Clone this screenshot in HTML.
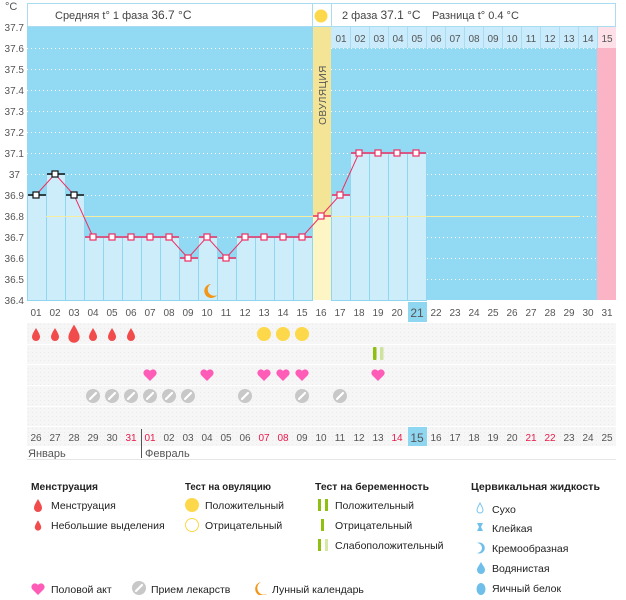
<!DOCTYPE html><html><head><meta charset="utf-8"><style>
body{margin:0;background:#fff;width:626px;height:595px;overflow:hidden;font-family:"Liberation Sans",sans-serif}
svg text{font-family:"Liberation Sans","DejaVu Sans",sans-serif}
</style></head><body>
<svg width="626" height="595" xmlns="http://www.w3.org/2000/svg">
<defs>
<pattern id="dots" width="4" height="4" patternUnits="userSpaceOnUse"><rect width="4" height="4" fill="#f6f6f6"/><rect width="1" height="1" fill="#ebebeb"/></pattern>
<g id="drop"><path d="M0,-6 C3,-1 4,1 4,3 A4,4 0 0 1 -4,3 C-4,1 -3,-1 0,-6Z" fill="#f24b4b"/></g>
<g id="heart"><path d="M0,6 L-6,0 A3.3,3.3 0 0 1 0,-4 A3.3,3.3 0 0 1 6,0Z" fill="#ff5cb8"/></g>
<g id="pill"><circle r="7" fill="#c8c8c8"/><line x1="-3" y1="3" x2="3" y2="-3" stroke="#fff" stroke-width="2.2" stroke-linecap="round"/></g>
</defs>
<rect x="27.5" y="3.5" width="588" height="23" fill="#fff" stroke="#a9dcf1"/>
<text x="55" y="19" font-size="11" fill="#444">Средняя t° 1 фаза <tspan font-size="12">36.7 °C</tspan></text>
<circle cx="321" cy="16" r="6.5" fill="#fdd84a"/>
<line x1="312.5" y1="3" x2="312.5" y2="27" stroke="#a9dcf1"/>
<line x1="331.5" y1="3" x2="331.5" y2="27" stroke="#a9dcf1"/>
<text x="342" y="19" font-size="11" fill="#444">2 фаза <tspan font-size="12">37.1 °C</tspan></text>
<text x="432" y="19" font-size="11" fill="#444">Разница t° 0.4 °C</text>
<text x="5" y="10" font-size="11" fill="#555">°C</text>
<rect x="27" y="27" width="589" height="273" fill="#92d9f3"/>
<g stroke="#fff" stroke-dasharray="1,3" stroke-width="1">
<line x1="27" y1="48.5" x2="597" y2="48.5"/><line x1="27" y1="69.5" x2="597" y2="69.5"/><line x1="27" y1="90.5" x2="597" y2="90.5"/><line x1="27" y1="111.5" x2="597" y2="111.5"/><line x1="27" y1="132.5" x2="597" y2="132.5"/><line x1="27" y1="153.5" x2="597" y2="153.5"/><line x1="27" y1="174.5" x2="597" y2="174.5"/><line x1="27" y1="195.5" x2="597" y2="195.5"/><line x1="27" y1="216.5" x2="597" y2="216.5"/><line x1="27" y1="237.5" x2="597" y2="237.5"/><line x1="27" y1="258.5" x2="597" y2="258.5"/><line x1="27" y1="279.5" x2="597" y2="279.5"/>
</g>
<rect x="331" y="27" width="285" height="21" fill="#c9ebfb"/>
<rect x="597" y="27" width="19" height="21" fill="#fde0e8"/>
<rect x="597" y="48" width="19" height="252" fill="#fbb3c6"/>
<g font-size="10" fill="#555" text-anchor="middle">
<text x="341" y="42">01</text><text x="360" y="42">02</text><text x="379" y="42">03</text><text x="398" y="42">04</text><text x="417" y="42">05</text><text x="436" y="42">06</text><text x="455" y="42">07</text><text x="474" y="42">08</text><text x="493" y="42">09</text><text x="512" y="42">10</text><text x="531" y="42">11</text><text x="550" y="42">12</text><text x="569" y="42">13</text><text x="588" y="42">14</text><text x="607" y="42">15</text>
</g>
<g stroke="#a9dcf1"><line x1="350.5" y1="27" x2="350.5" y2="48"/><line x1="369.5" y1="27" x2="369.5" y2="48"/><line x1="388.5" y1="27" x2="388.5" y2="48"/><line x1="407.5" y1="27" x2="407.5" y2="48"/><line x1="426.5" y1="27" x2="426.5" y2="48"/><line x1="445.5" y1="27" x2="445.5" y2="48"/><line x1="464.5" y1="27" x2="464.5" y2="48"/><line x1="483.5" y1="27" x2="483.5" y2="48"/><line x1="502.5" y1="27" x2="502.5" y2="48"/><line x1="521.5" y1="27" x2="521.5" y2="48"/><line x1="540.5" y1="27" x2="540.5" y2="48"/><line x1="559.5" y1="27" x2="559.5" y2="48"/><line x1="578.5" y1="27" x2="578.5" y2="48"/><line x1="597.5" y1="27" x2="597.5" y2="48"/></g>
<rect x="313" y="27" width="18" height="273" fill="#f3e496"/>
<rect x="313" y="216" width="18" height="84" fill="#fdf5c4"/>
<text transform="translate(326,95) rotate(-90)" font-size="10" fill="#555" text-anchor="middle" letter-spacing="0.5">ОВУЛЯЦИЯ</text>
<g fill="#cdedfb" stroke="#8fd6f0" stroke-width="1">
<rect x="27.5" y="195.5" width="19" height="105"/><rect x="46.5" y="174.5" width="19" height="126"/><rect x="65.5" y="195.5" width="19" height="105"/>
<rect x="84.5" y="237.5" width="19" height="63"/><rect x="103.5" y="237.5" width="19" height="63"/><rect x="122.5" y="237.5" width="19" height="63"/><rect x="141.5" y="237.5" width="19" height="63"/><rect x="160.5" y="237.5" width="19" height="63"/>
<rect x="179.5" y="258.5" width="19" height="42"/><rect x="198.5" y="237.5" width="19" height="63"/><rect x="217.5" y="258.5" width="19" height="42"/>
<rect x="236.5" y="237.5" width="19" height="63"/><rect x="255.5" y="237.5" width="19" height="63"/><rect x="274.5" y="237.5" width="19" height="63"/><rect x="293.5" y="237.5" width="19" height="63"/>
<rect x="331.5" y="195.5" width="19" height="105"/><rect x="350.5" y="153.5" width="19" height="147"/><rect x="369.5" y="153.5" width="19" height="147"/><rect x="388.5" y="153.5" width="19" height="147"/><rect x="407.5" y="153.5" width="19" height="147"/>
</g>
<line x1="46" y1="216.5" x2="580" y2="216.5" stroke="#f8eca0" stroke-width="1"/>
<g font-size="10" fill="#555" text-anchor="end">
<text x="24" y="31">37.7</text><text x="24" y="52">37.6</text><text x="24" y="73">37.5</text><text x="24" y="94">37.4</text><text x="24" y="115">37.3</text><text x="24" y="136">37.2</text><text x="24" y="157">37.1</text><text x="20" y="178">37</text><text x="24" y="199">36.9</text><text x="24" y="220">36.8</text><text x="24" y="241">36.7</text><text x="24" y="262">36.6</text><text x="24" y="283">36.5</text><text x="24" y="304">36.4</text>
</g>
<polyline fill="none" stroke="#ee2f62" stroke-width="1" points="36,195 55,174 74,195 93,237 112,237 131,237 150,237 169,237 188,258 207,237 226,258 245,237 264,237 283,237 302,237 321,216 340,195 359,153 378,153 397,153 416,153"/>
<g stroke-width="1.5">
<g stroke="#111"><line x1="28" y1="195" x2="46" y2="195"/><line x1="47" y1="174" x2="65" y2="174"/><line x1="66" y1="195" x2="84" y2="195"/></g>
<g stroke="#ee2f62"><line x1="85" y1="237" x2="179" y2="237"/><line x1="180" y1="258" x2="198" y2="258"/><line x1="199" y1="237" x2="217" y2="237"/><line x1="218" y1="258" x2="236" y2="258"/><line x1="237" y1="237" x2="312" y2="237"/><line x1="313" y1="216" x2="331" y2="216"/><line x1="332" y1="195" x2="350" y2="195"/><line x1="351" y1="153" x2="426" y2="153"/></g>
</g>
<g fill="#fff" stroke-width="1.2">
<g stroke="#111"><rect x="33" y="192" width="6" height="6"/><rect x="52" y="171" width="6" height="6"/><rect x="71" y="192" width="6" height="6"/></g>
<g stroke="#ee2f62"><rect x="90" y="234" width="6" height="6"/><rect x="109" y="234" width="6" height="6"/><rect x="128" y="234" width="6" height="6"/><rect x="147" y="234" width="6" height="6"/><rect x="166" y="234" width="6" height="6"/><rect x="185" y="255" width="6" height="6"/><rect x="204" y="234" width="6" height="6"/><rect x="223" y="255" width="6" height="6"/><rect x="242" y="234" width="6" height="6"/><rect x="261" y="234" width="6" height="6"/><rect x="280" y="234" width="6" height="6"/><rect x="299" y="234" width="6" height="6"/><rect x="318" y="213" width="6" height="6"/><rect x="337" y="192" width="6" height="6"/><rect x="356" y="150" width="6" height="6"/><rect x="375" y="150" width="6" height="6"/><rect x="394" y="150" width="6" height="6"/><rect x="413" y="150" width="6" height="6"/></g>
</g>
<path d="M211,284 A7,7 0 1 0 217,295 A6,6 0 0 1 211,284Z" fill="#f39516"/>
<rect x="408" y="302" width="19" height="20" fill="#8fd6f0"/>
<g font-size="10" fill="#555" text-anchor="middle">
<text x="36" y="316">01</text><text x="55" y="316">02</text><text x="74" y="316">03</text><text x="93" y="316">04</text><text x="112" y="316">05</text><text x="131" y="316">06</text><text x="150" y="316">07</text><text x="169" y="316">08</text><text x="188" y="316">09</text><text x="207" y="316">10</text><text x="226" y="316">11</text><text x="245" y="316">12</text><text x="264" y="316">13</text><text x="283" y="316">14</text><text x="302" y="316">15</text><text x="321" y="316">16</text><text x="340" y="316">17</text><text x="359" y="316">18</text><text x="378" y="316">19</text><text x="397" y="316">20</text><text x="417" y="317" font-size="12">21</text><text x="436" y="316">22</text><text x="455" y="316">23</text><text x="474" y="316">24</text><text x="493" y="316">25</text><text x="512" y="316">26</text><text x="531" y="316">27</text><text x="550" y="316">28</text><text x="569" y="316">29</text><text x="588" y="316">30</text><text x="607" y="316">31</text>
</g>
<rect x="27" y="323" width="589" height="123" fill="url(#dots)"/>
<g stroke="#fff" stroke-width="1"><line x1="27" y1="344.5" x2="616" y2="344.5"/><line x1="27" y1="364.5" x2="616" y2="364.5"/><line x1="27" y1="385.5" x2="616" y2="385.5"/><line x1="27" y1="406.5" x2="616" y2="406.5"/><line x1="27" y1="426.5" x2="616" y2="426.5"/></g>
<use href="#drop" x="36" y="334"/><use href="#drop" x="55" y="334"/><use href="#drop" transform="translate(74,333) scale(1.4)"/><use href="#drop" x="93" y="334"/><use href="#drop" x="112" y="334"/><use href="#drop" x="131" y="334"/>
<circle cx="264" cy="334" r="7" fill="#fdd84a"/><circle cx="283" cy="334" r="7" fill="#fdd84a"/><circle cx="302" cy="334" r="7" fill="#fdd84a"/>
<rect x="373" y="347" width="3.5" height="13" rx="1" fill="#8fbf10"/><rect x="380" y="347" width="3.5" height="13" rx="1" fill="#cfe3a0"/>
<use href="#heart" x="150" y="375"/><use href="#heart" x="207" y="375"/><use href="#heart" x="264" y="375"/><use href="#heart" x="283" y="375"/><use href="#heart" x="302" y="375"/><use href="#heart" x="378" y="375"/>
<use href="#pill" x="93" y="396"/><use href="#pill" x="112" y="396"/><use href="#pill" x="131" y="396"/><use href="#pill" x="150" y="396"/><use href="#pill" x="169" y="396"/><use href="#pill" x="188" y="396"/><use href="#pill" x="245" y="396"/><use href="#pill" x="302" y="396"/><use href="#pill" x="340" y="396"/>
<rect x="408" y="427" width="19" height="19" fill="#8fd6f0"/>
<g font-size="10" fill="#555" text-anchor="middle">
<text x="36" y="441">26</text><text x="55" y="441">27</text><text x="74" y="441">28</text><text x="93" y="441">29</text><text x="112" y="441">30</text><text x="131" y="441" fill="#e8184a">31</text><text x="150" y="441" fill="#e8184a">01</text><text x="169" y="441">02</text><text x="188" y="441">03</text><text x="207" y="441">04</text><text x="226" y="441">05</text><text x="245" y="441">06</text><text x="264" y="441" fill="#e8184a">07</text><text x="283" y="441" fill="#e8184a">08</text><text x="302" y="441">09</text><text x="321" y="441">10</text><text x="340" y="441">11</text><text x="359" y="441">12</text><text x="378" y="441">13</text><text x="397" y="441" fill="#e8184a">14</text><text x="417" y="442" font-size="12">15</text><text x="436" y="441">16</text><text x="455" y="441">17</text><text x="474" y="441">18</text><text x="493" y="441">19</text><text x="512" y="441">20</text><text x="531" y="441" fill="#e8184a">21</text><text x="550" y="441" fill="#e8184a">22</text><text x="569" y="441">23</text><text x="588" y="441">24</text><text x="607" y="441">25</text>
</g>
<line x1="141.5" y1="429" x2="141.5" y2="458" stroke="#555"/>
<text x="28" y="457" font-size="11" fill="#555">Январь</text>
<text x="145" y="457" font-size="11" fill="#555">Февраль</text>
<line x1="27" y1="459.5" x2="616" y2="459.5" stroke="#e6e6e6"/>
<g font-size="10.5" fill="#222">
<text x="31" y="490" font-weight="bold" textLength="67" lengthAdjust="spacingAndGlyphs">Менструация</text>
<use href="#drop" x="38" y="505"/><text x="51" y="509">Менструация</text>
<use href="#drop" transform="translate(38,525) scale(0.8)"/><text x="51" y="529">Небольшие выделения</text>
<text x="185" y="490" font-weight="bold" textLength="86" lengthAdjust="spacingAndGlyphs">Тест на овуляцию</text>
<circle cx="192" cy="505" r="7" fill="#fdd84a"/><text x="205" y="509">Положительный</text>
<circle cx="192" cy="525" r="6.5" fill="#fff" stroke="#fdd84a"/><text x="205" y="529">Отрицательный</text>
<text x="315" y="490" font-weight="bold" textLength="114" lengthAdjust="spacingAndGlyphs">Тест на беременность</text>
<rect x="318" y="499" width="3" height="12" fill="#8fbf10"/><rect x="325" y="499" width="3" height="12" fill="#8fbf10"/><text x="335" y="509">Положительный</text>
<rect x="321" y="519" width="3" height="12" fill="#8fbf10"/><text x="335" y="529">Отрицательный</text>
<rect x="318" y="539" width="3" height="12" fill="#8fbf10"/><rect x="325" y="539" width="3" height="12" fill="#d5e8a8"/><text x="335" y="549">Слабоположительный</text>
<text x="471" y="490" font-weight="bold" textLength="129" lengthAdjust="spacingAndGlyphs">Цервикальная жидкость</text>
<path d="M480,503 C482,507 483,508 483,510 A3,3 0 0 1 477,510 C477,508 478,507 480,503Z" fill="#fff" stroke="#7cc7ee"/><text x="492" y="513">Сухо</text>
<path d="M477,523 h6 l-2,4 l2,4 h-6 l2,-4Z" fill="#6fbfea"/><text x="492" y="532">Клейкая</text>
<path d="M477,543 A5.5,5.5 0 1 1 477,553 A4,4 0 0 0 477,543Z" fill="#6fbfea"/><text x="492" y="552">Кремообразная</text>
<path d="M481,562 C484,567 485,568 485,570 A4,4 0 0 1 477,570 C477,568 478,567 481,562Z" fill="#6fbfea"/><text x="492" y="572">Водянистая</text>
<ellipse cx="481" cy="589" rx="4.5" ry="6" fill="#6fbfea"/><text x="492" y="592">Яичный белок</text>
<use href="#heart" x="38" y="589"/><text x="51" y="593">Половой акт</text>
<use href="#pill" x="139" y="588"/><text x="151" y="593">Прием лекарств</text>
<path d="M261,582 A7,7 0 1 0 267,594 A6,6 0 0 1 261,582Z" fill="#f39516"/><text x="272" y="593">Лунный календарь</text>
</g>
</svg>
</body></html>
